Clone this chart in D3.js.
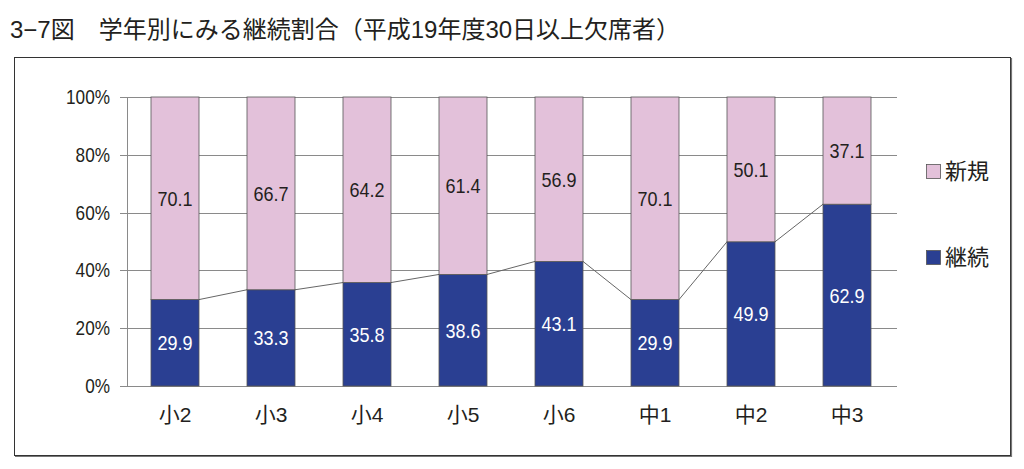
<!DOCTYPE html>
<html><head><meta charset="utf-8">
<script src="https://cdn.jsdelivr.net/npm/d3@7"></script>
<style>
html,body{margin:0;padding:0;background:#fff;}
svg{display:block;}
</style></head>
<body><svg id="chart" width="1024" height="469"></svg>
<script>
const categories = ["小2","小3","小4","小5","小6","中1","中2","中3"];
const keizoku = [29.9,33.3,35.8,38.6,43.1,29.9,49.9,62.9];
const shinki  = [70.1,66.7,64.2,61.4,56.9,70.1,50.1,37.1];
const seriesNames = ["新規","継続"];
const yTicks = [0,20,40,60,80,100];
const title = "3−7図　学年別にみる継続割合（平成19年度30日以上欠席者）";

const numFont = "'Liberation Sans',Arial,sans-serif";
const mixFont = "'Liberation Sans','Noto Sans CJK JP',sans-serif";
const pink = "#e3c1da", blue = "#2a3f92", txt = "#231f20";

const svg = d3.select("#chart");
svg.append("text").attr("x",10).attr("y",38).attr("font-family",mixFont)
  .attr("font-size",24).attr("fill",txt).text(title);
svg.append("rect").attr("x",14.5).attr("y",57.5).attr("width",996).attr("height",398)
  .attr("fill","none").attr("stroke","#333").attr("stroke-width",1);
svg.append("path").attr("d","M15,456.5H1011.5V58").attr("fill","none").attr("stroke","#777").attr("stroke-width",1.2);

const x = d3.scaleBand().domain(categories).range([127,895]).paddingInner(0.5).paddingOuter(0.25);
const y = d3.scaleLinear().domain([0,100]).range([386,97]);
const cx = d => x(d) + x.bandwidth()/2;

// gridlines
svg.append("g").selectAll("line").data(yTicks).join("line")
  .attr("x1",120).attr("x2",897).attr("y1",d=>Math.round(y(d))+0.5).attr("y2",d=>Math.round(y(d))+0.5)
  .attr("stroke","#8a8a8a").attr("stroke-width",1);
svg.append("line").attr("x1",127.5).attr("x2",127.5).attr("y1",y(100)).attr("y2",y(0))
  .attr("stroke","#8a8a8a");

// y labels (condensed)
svg.append("g").selectAll("text").data(yTicks).join("text")
  .attr("transform",d=>`translate(110,${y(d)+7}) scale(0.86,1)`)
  .attr("text-anchor","end")
  .attr("font-family",numFont).attr("font-size",20).attr("fill",txt).text(d=>d+"%");

// connector lines
const conn = [];
for(let i=0;i<categories.length-1;i++){
  conn.push([x(categories[i])+x.bandwidth(), y(keizoku[i]), x(categories[i+1]), y(keizoku[i+1])]);
}
svg.append("g").selectAll("line").data(conn).join("line")
  .attr("x1",d=>d[0]).attr("y1",d=>d[1]).attr("x2",d=>d[2]).attr("y2",d=>d[3])
  .attr("stroke","#666").attr("stroke-width",1);

// bars
const g = svg.append("g");
g.selectAll(".k").data(categories).join("rect").attr("class","k")
  .attr("x",d=>x(d)).attr("width",x.bandwidth())
  .attr("y",(d,i)=>y(keizoku[i])).attr("height",(d,i)=>y(0)-y(keizoku[i]))
  .attr("fill",blue).attr("stroke","#555").attr("stroke-width",0.8);
g.selectAll(".s").data(categories).join("rect").attr("class","s")
  .attr("x",d=>x(d)).attr("width",x.bandwidth())
  .attr("y",(d,i)=>y(keizoku[i]+shinki[i])).attr("height",(d,i)=>y(keizoku[i])-y(keizoku[i]+shinki[i]))
  .attr("fill",pink).attr("stroke","#555").attr("stroke-width",0.8);

// labels
g.selectAll(".kl").data(categories).join("text").attr("class","kl")
  .attr("transform",(d,i)=>`translate(${cx(d)},${(y(0)+y(keizoku[i]))/2+7.5}) scale(0.9,1)`)
  .attr("text-anchor","middle").attr("font-family",numFont).attr("font-size",20)
  .attr("fill","#fff").text((d,i)=>keizoku[i].toFixed(1));
g.selectAll(".sl").data(categories).join("text").attr("class","sl")
  .attr("transform",(d,i)=>`translate(${cx(d)},${(y(keizoku[i])+y(100))/2+7.5}) scale(0.9,1)`)
  .attr("text-anchor","middle").attr("font-family",numFont).attr("font-size",20)
  .attr("fill",txt).text((d,i)=>shinki[i].toFixed(1));

// x labels
svg.append("g").selectAll("text").data(categories).join("text")
  .attr("x",cx).attr("y",422)
  .attr("text-anchor","middle")
  .attr("font-family",mixFont).attr("font-size",21).attr("fill",txt)
  .text(d=>d);

// legend
const leg = [{name:seriesNames[0],color:pink,y:171},{name:seriesNames[1],color:blue,y:257}];
const lg = svg.append("g").selectAll("g").data(leg).join("g");
lg.append("rect").attr("x",926.5).attr("y",d=>d.y-6.5).attr("width",14).attr("height",14)
  .attr("fill",d=>d.color).attr("stroke","#555").attr("stroke-width",0.8);
lg.append("text").attr("x",945).attr("y",d=>d.y+8).attr("font-family",mixFont)
  .attr("font-size",22).attr("fill",txt).text(d=>d.name);
</script></body></html>
